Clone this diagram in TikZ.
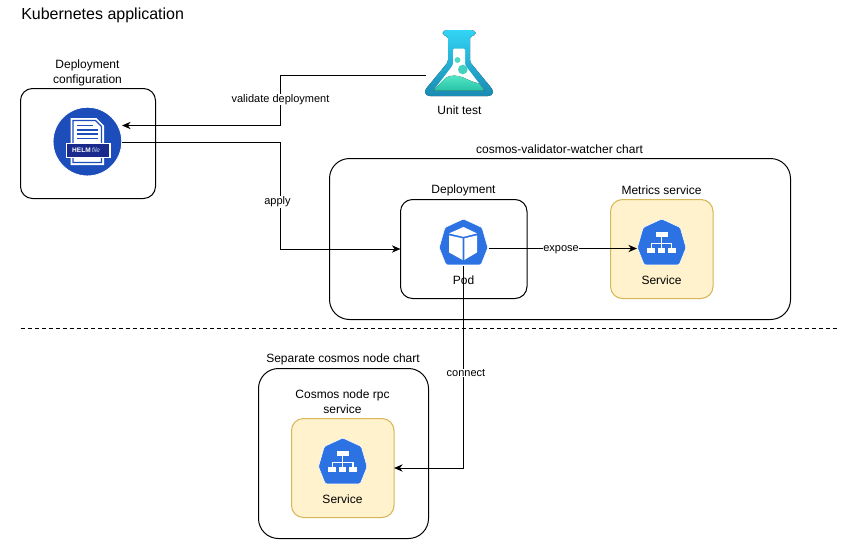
\documentclass[tikz,border=0pt]{standalone}
\usepackage{fontspec}
\setmainfont{Liberation Sans}
\usetikzlibrary{arrows.meta}
\definecolor{kblue}{HTML}{2D72E3}
\definecolor{helmblue}{HTML}{1C4DBB}
\definecolor{helmnavy}{HTML}{1A2A8C}
\definecolor{svcfill}{HTML}{FFF2CC}
\definecolor{svcline}{HTML}{D6B656}
\definecolor{flasktop}{HTML}{32D4F5}
\definecolor{flaskbot}{HTML}{198AB3}
\definecolor{liqtop}{HTML}{54E9C6}
\definecolor{liqbot}{HTML}{29C3A8}
\tikzset{
  panel/.style={draw=black,line width=0.75pt,rounded corners=#1,fill=white},
  panel/.default=9pt,
  svcpanel/.style={draw=svcline,line width=0.75pt,rounded corners=9pt,fill=svcfill},
  txt/.style={font=\fontsize{9}{11.25}\selectfont,align=center,inner sep=0pt,text=black},
  edgelabel/.style={font=\fontsize{8.25}{9.5}\selectfont,fill=white,inner sep=0.3pt,text=black},
  conn/.style={draw=black,line width=0.75pt,-{Stealth[length=6.5pt,width=5.5pt]}},
  pics/hepta/.style={code={
    \filldraw[fill=kblue,draw=white,line width=0.4pt,rounded corners=1pt] (0,-24)--(18.5,-15.5)--(24.3,4.7)--(17.5,21.8)--(-17.5,21.8)--(-24.3,4.7)--(-18.5,-15.5)--cycle;
  }},
  pics/podicon/.style={code={
    \pic {hepta};
    \fill[white] (0,-16)--(13.5,-9.6)--(0,-6.2)--(-14.5,-9.6)--cycle;
    \fill[white] (-14.5,-7.6)--(-0.8,-4.6)--(-0.8,17)--(-14.5,9.4)--cycle;
    \fill[white] (13.5,-7.6)--(0.8,-4.6)--(0.8,17)--(13.5,9.4)--cycle;
  }},
  pics/svcicon/.style={code={
    \pic {hepta};
    \fill[white] (-6,-11.3) rectangle (6,-5.9);
    \draw[white,line width=0.85pt] (0,-5.9)--(0,4.7) (-10.5,4.7)--(-10.5,0.3)--(10.2,0.3)--(10.2,4.7);
    \fill[white] (-14.8,4.7) rectangle (-6.6,10.3);
    \fill[white] (-3.9,4.7) rectangle (3.6,10.3);
    \fill[white] (6.5,4.7) rectangle (14.3,10.3);
  }}
}
\begin{document}
\begin{tikzpicture}[x=0.75pt,y=-0.75pt]
\useasboundingbox (0,0) rectangle (842,539);
\fill[white] (0,0) rectangle (842,539);

% containers
\draw[panel] (20.5,88.5) rectangle (155.5,198.5);
\draw[panel=15pt] (329.5,158.5) rectangle (790.5,319.5);
\draw[panel] (400.5,199.5) rectangle (527,298.5);
\draw[svcpanel] (610.5,199.5) rectangle (713,298.5);
\draw[panel=15pt] (258.5,368.5) rectangle (428.5,538.5);
\draw[svcpanel] (291.5,418.5) rectangle (394,517.5);

% divider
\coordinate (divL) at (20.5,328.5);
\coordinate (divR) at (839,328.5);
\draw[black,dash pattern=on 3pt off 2.25pt,line width=0.75pt] (divL)--(divR);

% helm icon
\node[circle,fill=helmblue,draw=white,line width=0.6pt,minimum size=51.5pt,inner sep=0pt] (helm) at (87.4,141.6) {};
\fill[white] (70.5,118)--(96.5,118)--(104,125.5)--(104,165)--(70.5,165)--cycle;
\draw[helmblue,line width=0.9pt] (73,120.5)--(95.5,120.5)--(101.5,126.5)--(101.5,162.5)--(73,162.5)--cycle;
\foreach \yy/\xe in {125.5/93,129.8/98,134.2/98,138.5/98}
  \draw[helmblue,line width=1.1pt] (77,\yy)--(\xe,\yy);
\fill[white] (65.5,142.5) rectangle (110.5,158);
\fill[helmnavy] (67,144) rectangle (109,156.5);
\node[font=\bfseries\fontsize{4.9}{5}\selectfont,text=white,inner sep=0pt,anchor=east] (helmword) at (91,150.5) {HELM};
\node[font=\itshape\fontsize{4.9}{5}\selectfont,text=white!75!helmblue,inner sep=0pt,anchor=west] (fileword) at (91.5,150.5) {file};
\coordinate (helmIn) at (122,125.5);
\coordinate (helmOut) at (122,142.5);

% flask icon
\fill[top color=flasktop,bottom color=flaskbot,rounded corners=1.4pt]
  (445,30)--(473,30)--(475.5,32)--(475.5,34)--(473,36.3)--(470,36.3)--(470,62)--(493,90)--(493,94)--(490,96)--(428,96)--(425,94)--(425,90)--(448,62)--(448,36.3)--(445,36.3)--(442.8,34)--(442.8,32)--cycle;
\fill[white,rounded corners=1pt] (453,48.5)--(465,48.5)--(465,65)--(484.5,90.5)--(433.5,90.5)--(453,65)--cycle;
\fill[top color=liqtop,bottom color=liqbot] (433.5,90.5)--(446,77.5) .. controls (452,74.5) and (458,75.5) .. (463,77.5) .. controls (468,79.5) and (472,82) .. (479,83.5)--(484.5,90.5)--cycle;
\fill[liqtop!85!flaskbot] (457.5,60) circle[radius=2.2pt];
\fill[liqtop!75!flaskbot] (462.8,69.5) circle[radius=3.6pt];
\node[inner sep=0pt,minimum width=51pt,minimum height=50pt] (flask) at (459,63) {};
\coordinate (flaskOut) at (426,75.5);

% kubernetes icons
\pic at (463.5,243) {podicon};
\coordinate (podEast) at (488.5,248.5);
\coordinate (podSouth) at (463.5,266);
\pic at (661.7,243) {svcicon};
\coordinate (svcWest) at (637,248.5);
\pic at (342.8,462) {svcicon};

% connectors
\coordinate (depWest) at (400.5,249);
\coordinate (rpcEast) at (394,468);
\draw[conn] (flaskOut)-|(280.5,125.5)--(helmIn);
\draw[conn] (helmOut)-|(280.5,249)--(depWest);
\draw[conn] (podEast)--(svcWest);
\draw[conn] (podSouth)|-(rpcEast);

% labels
\node[anchor=west,font=\fontsize{12}{14}\selectfont,inner sep=0pt] (title) at (21,15.5) {Kubernetes application};
\node[txt] (lhelm) at (87.5,72.5) {Deployment\\configuration};
\node[txt] (lunit) at (459.5,110) {Unit test};
\node[txt] (lchart) at (559.5,149) {cosmos-validator-watcher chart};
\node[txt] (ldep) at (463.5,190.5) {Deployment};
\node[txt] (lmet) at (661.5,190) {Metrics service};
\node[txt] (lpod) at (463.5,280) {Pod};
\node[txt] (lsvc) at (661.5,280) {Service};
\node[txt] (lsep) at (343,359) {Separate cosmos node chart};
\node[txt] (lrpc) at (342.5,401.5) {Cosmos node rpc\\service};
\node[txt] (lsvc2) at (342.5,499) {Service};
\node[edgelabel] (evalidate) at (280.5,99.5) {validate deployment};
\node[edgelabel] (eapply) at (277.5,202) {apply};
\node[edgelabel] (eexpose) at (561,250) {expose};
\node[edgelabel] (econnect) at (466,373) {connect};
\end{tikzpicture}
\end{document}
